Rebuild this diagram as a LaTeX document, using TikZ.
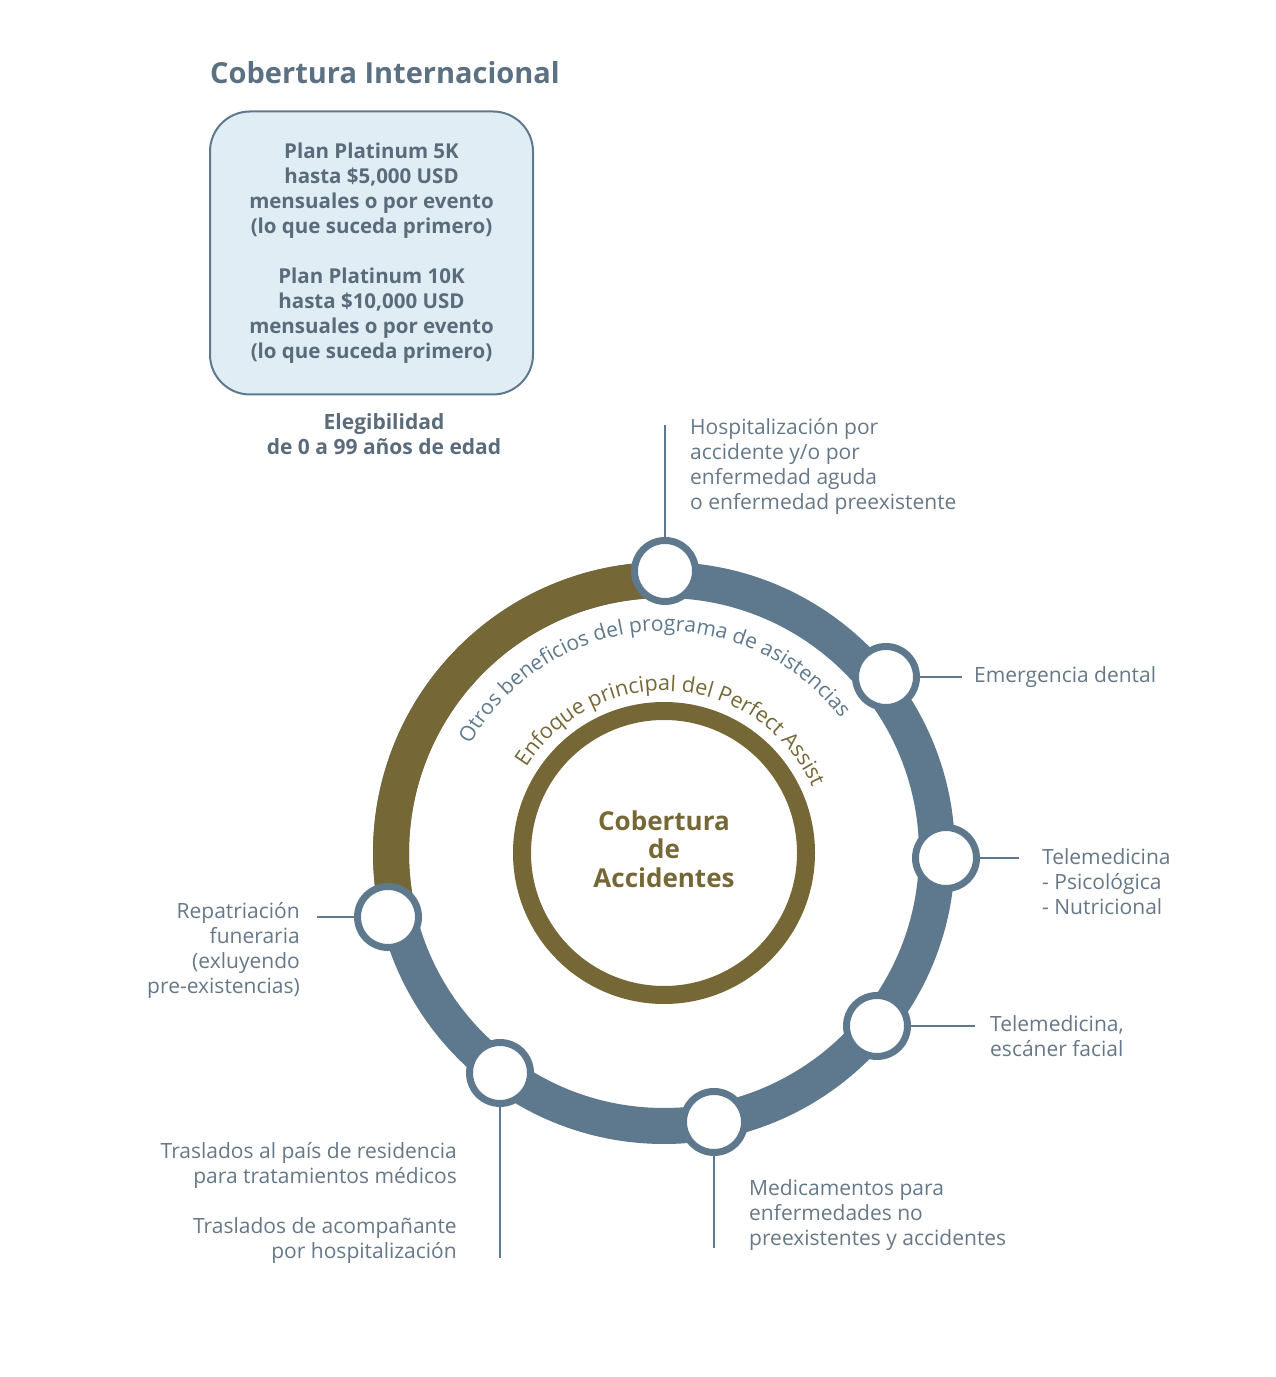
\documentclass[tikz,border=0pt]{standalone}
\usepackage{fontspec}
\setmainfont{Open Sans}
\usetikzlibrary{decorations.text}
\definecolor{ringblue}{HTML}{5E798D}
\definecolor{ringbrown}{HTML}{766836}
\definecolor{boxfill}{HTML}{E1EDF4}
\definecolor{labelcol}{HTML}{667888}
\definecolor{titlecol}{HTML}{5B7082}
\definecolor{boxtext}{HTML}{5A6B7B}
\begin{document}
\begin{tikzpicture}[x=1pt,y=1pt,
  dot/.style={circle, draw=ringblue, line width=7pt, fill=white, minimum size=61pt, inner sep=0pt},
  lbl/.style={text=labelcol, font=\fontsize{21}{25}\selectfont, inner sep=0pt},
  conn/.style={draw=ringblue, line width=2.2pt},
]
\useasboundingbox (0,0) rectangle (1276,1377);

% header
\node[anchor=west, inner sep=0pt, font=\bfseries\fontsize{29}{30}\selectfont, text=titlecol] (title) at (210,1304) {Cobertura Internacional};
\node[draw=ringblue, line width=2pt, fill=boxfill, rounded corners=40pt, minimum width=323pt, minimum height=283pt,
      align=center, text=boxtext, font=\bfseries\fontsize{20.5}{25}\selectfont] (box) at (371.5,1124)
  {Plan Platinum 5K\\hasta \$5,000 USD\\mensuales o por evento\\(lo que suceda primero)\\[25pt]
   Plan Platinum 10K\\hasta \$10,000 USD\\mensuales o por evento\\(lo que suceda primero)};
\node[align=center, text=boxtext, font=\bfseries\fontsize{21}{25}\selectfont] (eleg) at (384,942.5)
  {Elegibilidad\\de 0 a 99 años de edad};

% rings
\coordinate (C) at (664,524);
\draw[ringblue, line width=36pt] (C) circle[radius=273];
\draw[ringbrown, line width=36pt] ([shift={(90:273)}]C) arc[start angle=90, end angle=193, radius=273];
\draw[ringbrown, line width=18pt] (C) circle[radius=142];

% curved texts
\path[decorate, decoration={text along path, text align=center,
  text={|\fontsize{21}{21}\selectfont\color{ringblue}|Otros beneficios del programa de asistencias}}]
  ([shift={(166:222)}]C) arc[start angle=166, end angle=22, radius=222];
\path[decorate, decoration={text along path, text align=center,
  text={|\fontsize{21.5}{21.5}\selectfont\color{ringbrown}|Enfoque principal del Perfect Assist}}]
  ([shift={(162:162)}]C) arc[start angle=162, end angle=10, radius=162];

\node[align=center, text=ringbrown, font=\bfseries\fontsize{26}{28.5}\selectfont] (core) at (664,528)
  {Cobertura\\de\\Accidentes};

% connector end points
\coordinate (e1) at (665,952);
\coordinate (e2) at (962,700);
\coordinate (e3) at (1019,519);
\coordinate (e4) at (975,351);
\coordinate (e5) at (714,129);
\coordinate (e6) at (500,119);
\coordinate (e7) at (317,460);

% benefit circles
\node[dot] (d1) at (665,806) {};
\node[dot] (d2) at (886,700) {};
\node[dot] (d3) at (946,519) {};
\node[dot] (d4) at (877,351) {};
\node[dot] (d5) at (714,255) {};
\node[dot] (d6) at (500,304) {};
\node[dot] (d7) at (388,460) {};

\draw[conn] (e1) -- (d1);
\draw[conn] (d2) -- (e2);
\draw[conn] (d3) -- (e3);
\draw[conn] (d4) -- (e4);
\draw[conn] (d5) -- (e5);
\draw[conn] (d6) -- (e6);
\draw[conn] (e7) -- (d7);

% labels
\node[lbl, anchor=west, align=left] (l1) at (690,910.5)
  {Hospitalización por\\accidente y/o por\\enfermedad aguda\\o enfermedad preexistente};
\node[lbl, anchor=west, align=left] (l2) at (974,700) {Emergencia dental};
\node[lbl, anchor=west, align=left] (l3) at (1042,495) {Telemedicina\\- Psicológica\\- Nutricional};
\node[lbl, anchor=west, align=left] (l4) at (990,340.5) {Telemedicina,\\escáner facial};
\node[lbl, anchor=west, align=left] (l5) at (749,162)
  {Medicamentos para\\enfermedades no\\preexistentes y accidentes};
\node[lbl, anchor=east, align=right] (l6) at (457,174)
  {Traslados al país de residencia\\para tratamientos médicos\\[25pt]Traslados de acompañante\\por hospitalización};
\node[lbl, anchor=east, align=right] (l7) at (300,426.5)
  {Repatriación\\funeraria\\(exluyendo\\pre-existencias)};
\end{tikzpicture}
\end{document}
